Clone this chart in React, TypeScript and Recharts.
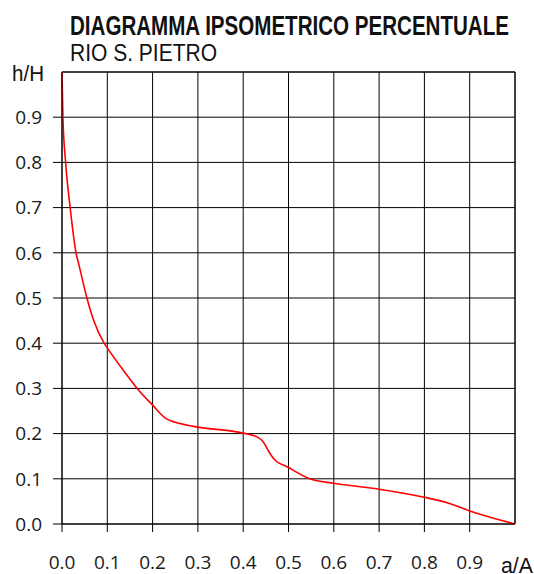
import React from 'react';
import { LineChart, Line, XAxis, YAxis, CartesianGrid, ReferenceLine } from 'recharts';

// area fraction a/A and matching height fraction h/H
const areaFrac = [
  0, 0.002, 0.008, 0.018, 0.031, 0.037, 0.055, 0.07, 0.093, 0.101, 0.128, 0.166,
  0.2, 0.23, 0.25, 0.29, 0.4, 0.43, 0.444, 0.455, 0.467, 0.5, 0.547, 0.6, 0.7,
  0.8, 0.85, 0.9, 1.0,
];
const heightFrac = [
  1.0, 0.9, 0.8, 0.7, 0.6, 0.575, 0.5, 0.45, 0.4, 0.388, 0.35, 0.3,
  0.263, 0.233, 0.225, 0.216, 0.201, 0.193, 0.182, 0.163, 0.145, 0.125, 0.1, 0.09, 0.077,
  0.059, 0.047, 0.029, 0.0,
];

const xTicks = [0, 0.1, 0.2, 0.3, 0.4, 0.5, 0.6, 0.7, 0.8, 0.9];
const yTicks = [0, 0.1, 0.2, 0.3, 0.4, 0.5, 0.6, 0.7, 0.8, 0.9];

const title = 'DIAGRAMMA IPSOMETRICO PERCENTUALE';
const subtitle = 'RIO S. PIETRO';
const yName = 'h/H';
const xName = 'a/A';

const curve = areaFrac.map((a, i) => ({ a, h: heightFrac[i] }));

const tickFont = { fontFamily: '"Open Sans", "Noto Sans", sans-serif', fontSize: 19, fill: '#1a1a1a' };
const labelFont = '"Liberation Sans", Arial, sans-serif';

export default function App() {
  return (
    <div style={{ position: 'absolute', left: 0, top: 0, width: 534, height: 574, background: '#fff' }}>
      <LineChart
        width={534}
        height={574}
        data={curve}
        margin={{ top: 72, right: 19, bottom: 10, left: 12 }}
      >
        <CartesianGrid stroke="#000" strokeWidth={1} />
        <XAxis
          type="number"
          dataKey="a"
          domain={[0, 1]}
          ticks={xTicks}
          tickFormatter={(v: number) => v.toFixed(1)}
          height={40}
          tickSize={8}
          tickMargin={24}
          axisLine={{ stroke: '#000' }}
          tickLine={{ stroke: '#000' }}
          tick={tickFont}
        />
        <YAxis
          type="number"
          dataKey="h"
          domain={[0, 1]}
          ticks={yTicks}
          tickFormatter={(v: number) => v.toFixed(1)}
          width={50}
          tickSize={9}
          tickMargin={11}
          axisLine={{ stroke: '#000' }}
          tickLine={{ stroke: '#000' }}
          tick={tickFont}
        />
        <ReferenceLine y={1} stroke="#000" />
        <ReferenceLine x={1} stroke="#000" />
        <Line
          type="monotone"
          dataKey="h"
          stroke="#ff0000"
          strokeWidth={1.6}
          dot={false}
          isAnimationActive={false}
        />
      </LineChart>
      <svg
        width={534}
        height={574}
        style={{ position: 'absolute', left: 0, top: 0, pointerEvents: 'none' }}
      >
        <text x={70} y={35} fontFamily={labelFont} fontWeight="bold" fontSize={27}
          textLength={439} lengthAdjust="spacingAndGlyphs" fill="#111">{title}</text>
        <text x={70} y={61} fontFamily={labelFont} fontSize={23}
          textLength={147} lengthAdjust="spacingAndGlyphs" fill="#111">{subtitle}</text>
        <text x={12} y={81} fontFamily={labelFont} fontSize={22}
          textLength={32} lengthAdjust="spacingAndGlyphs" fill="#111">{yName}</text>
        <text x={501} y={573} fontFamily={labelFont} fontSize={22}
          textLength={32} lengthAdjust="spacingAndGlyphs" fill="#111">{xName}</text>
      </svg>
    </div>
  );
}
